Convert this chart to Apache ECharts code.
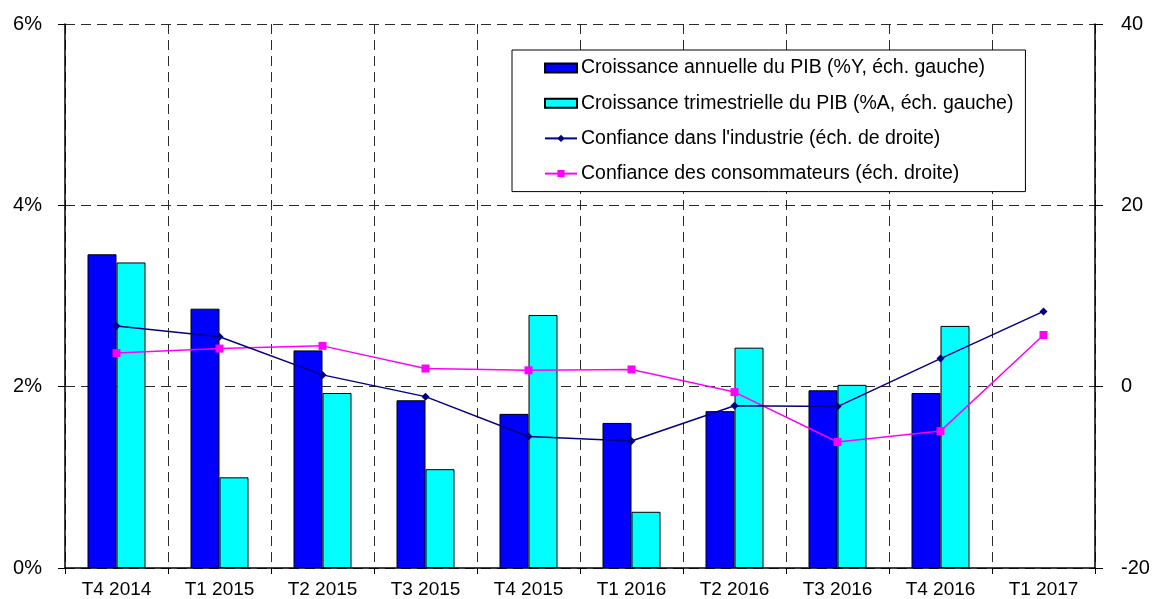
<!DOCTYPE html>
<html>
<head>
<meta charset="utf-8">
<script src="https://cdn.jsdelivr.net/npm/echarts@6/dist/echarts.min.js"></script>
<style>
  html, body { margin: 0; padding: 0; background: #fff; }
  #chart { width: 1156px; height: 599px; }
</style>
</head>
<body>
<div id="chart"></div>
<script>
// Quarters on the horizontal axis
const quarters = ['T4 2014', 'T1 2015', 'T2 2015', 'T3 2015', 'T4 2015',
                  'T1 2016', 'T2 2016', 'T3 2016', 'T4 2016', 'T1 2017'];

// GDP growth, % (left scale)
const pibAnnuel = [3.46, 2.86, 2.40, 1.85, 1.70, 1.60, 1.73, 1.96, 1.93, null];
const pibTrimestriel = [3.37, 1.00, 1.93, 1.09, 2.79, 0.62, 2.43, 2.02, 2.67, null];

// Confidence indicators (right scale)
const confIndustrie = [6.7, 5.5, 1.3, -1.1, -5.5, -6.0, -2.1, -2.2, 3.1, 8.3];
const confConso = [3.7, 4.2, 4.5, 2.0, 1.8, 1.9, -0.6, -6.1, -4.9, 5.7];

// Scale ticks
const leftTicks = [0, 2, 4, 6];
const rightTicks = [-20, 0, 20, 40];

const FONT = 'Liberation Sans';
const chart = echarts.init(document.getElementById('chart'), null, { renderer: 'canvas' });

const dashed = { color: '#2a2a2a', width: 1, type: [10, 6] };

chart.setOption({
  animation: false,
  backgroundColor: '#fff',
  textStyle: { fontFamily: FONT },
  grid: { left: 65, right: 61, top: 24, bottom: 31, containLabel: false },
  legend: {
    orient: 'vertical',
    left: 512,
    top: 50,
    padding: [8, 12, 8, 32],
    itemGap: 15.2,
    itemWidth: 32,
    itemHeight: 9,
    backgroundColor: '#fff',
    borderColor: '#000',
    borderWidth: 1,
    borderRadius: 0,
    textStyle: { fontFamily: FONT, fontSize: 19.5, color: '#000', lineHeight: 20, padding: [0, 0, 0, -1] },
    data: [
      { name: 'Croissance annuelle du PIB (%Y, éch. gauche)', icon: 'rect' },
      { name: 'Croissance trimestrielle du PIB (%A, éch. gauche)', icon: 'rect' },
      { name: "Confiance dans l'industrie (éch. de droite)" },
      { name: 'Confiance des consommateurs (éch. droite)' }
    ]
  },
  xAxis: {
    type: 'category',
    data: quarters,
    boundaryGap: true,
    axisLine: { lineStyle: { color: '#000', width: 1.5 } },
    axisTick: { show: true, length: 6, lineStyle: { color: '#000' } },
    axisLabel: { color: '#000', fontSize: 19, fontFamily: FONT, margin: 12 },
    splitLine: { show: true, lineStyle: dashed }
  },
  yAxis: [
    {
      type: 'value',
      min: leftTicks[0],
      max: leftTicks[leftTicks.length - 1],
      interval: 2,
      position: 'left',
      axisLine: { show: true, lineStyle: { color: '#000', width: 1.5 } },
      axisTick: { show: true, length: 7, lineStyle: { color: '#000' } },
      axisLabel: { color: '#000', fontSize: 20, fontFamily: FONT, margin: 23, formatter: v => v + '%' },
      splitLine: { show: true, lineStyle: dashed }
    },
    {
      type: 'value',
      min: rightTicks[0],
      max: rightTicks[rightTicks.length - 1],
      interval: 20,
      position: 'right',
      axisLine: { show: true, lineStyle: { color: '#000', width: 1.5 } },
      axisTick: { show: true, length: 8, lineStyle: { color: '#000' } },
      axisLabel: { color: '#000', fontSize: 20, fontFamily: FONT, margin: 26 },
      splitLine: { show: false }
    }
  ],
  series: [
    {
      name: 'Croissance annuelle du PIB (%Y, éch. gauche)',
      type: 'bar',
      yAxisIndex: 0,
      data: pibAnnuel,
      barWidth: 29,
      barGap: '0%',
      itemStyle: { color: '#0000ff', borderColor: '#000', borderWidth: 1 }
    },
    {
      name: 'Croissance trimestrielle du PIB (%A, éch. gauche)',
      type: 'bar',
      yAxisIndex: 0,
      data: pibTrimestriel,
      barWidth: 29,
      barGap: '0%',
      itemStyle: { color: '#00ffff', borderColor: '#000', borderWidth: 1 }
    },
    {
      name: "Confiance dans l'industrie (éch. de droite)",
      type: 'line',
      yAxisIndex: 1,
      data: confIndustrie,
      symbol: 'diamond',
      symbolSize: 8,
      lineStyle: { color: '#000080', width: 1.5 },
      itemStyle: { color: '#000080' },
      z: 5
    },
    {
      name: 'Confiance des consommateurs (éch. droite)',
      type: 'line',
      yAxisIndex: 1,
      data: confConso,
      symbol: 'rect',
      symbolSize: 8,
      lineStyle: { color: '#ff00ff', width: 1.5 },
      itemStyle: { color: '#ff00ff' },
      z: 4
    }
  ]
});
</script>
</body>
</html>
